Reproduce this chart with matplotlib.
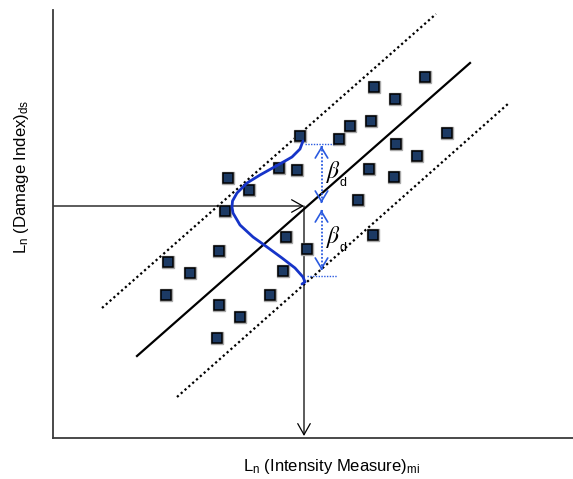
import matplotlib.pyplot as plt
from matplotlib.patches import FancyArrowPatch

plt.rcParams['font.family'] = ['Liberation Sans', 'DejaVu Sans']
plt.rcParams['mathtext.fontset'] = 'custom'
plt.rcParams['mathtext.rm'] = 'Liberation Sans'
plt.rcParams['mathtext.it'] = 'Liberation Sans:italic'

obs_x = [372, 321, 342, 318, 297, 286, 247, 394, 343, 364, 316, 341, 226, 244, 175,
         196, 305, 172, 233, 320, 254, 166, 115, 137, 230, 113, 217, 166, 187, 164]
obs_y = [361, 351, 339, 317, 312, 299, 302, 305, 294, 282, 269, 261, 270, 268, 260,
         248, 238, 227, 201, 203, 189, 187, 176, 165, 167, 143, 143, 133, 121, 100]

# median fit and the +/- beta band
fit_x = [84, 417]
fit_y = [82, 375]
upper_x = [49, 383]
upper_y = [130, 424]
lower_x = [124, 456]
lower_y = [41, 335]

# lognormal density drawn sideways about the chosen IM
pdf_x = [250, 247, 239, 225, 207, 194, 184, 179.5, 179, 180, 187, 200, 214, 229, 242, 250, 252, 249]
pdf_y = [297, 289, 281, 273, 263, 255, 245, 237, 231, 225, 213, 201, 191, 180, 170, 161, 156, 154]

im_x = 251
di_y = 232
beta_top = 293
beta_bot = 161

fig = plt.figure(figsize=(5.73, 4.79), dpi=100)
ax = fig.add_axes([53 / 573, 41 / 479, 520 / 573, 428 / 479])
ax.set_xlim(0, 520)
ax.set_ylim(0, 428)
for s in ['top', 'right']:
    ax.spines[s].set_visible(False)
for s in ['left', 'bottom']:
    ax.spines[s].set_linewidth(1.3)
    ax.spines[s].set_color('#3a3a3a')
ax.set_xticks([])
ax.set_yticks([])

ax.plot(fit_x, fit_y, color='black', lw=1.6, zorder=2)
ax.plot(upper_x, upper_y, color='black', lw=1.6, ls=(0, (1, 1.3)), zorder=2)
ax.plot(lower_x, lower_y, color='black', lw=1.6, ls=(0, (1, 1.3)), zorder=2)

# arrows from the axis to the fit and down to the IM axis
ax.add_patch(FancyArrowPatch((0, di_y), (im_x, di_y), arrowstyle='->,head_length=0.8,head_width=0.45',
                             mutation_scale=10, lw=0.9, color='black', shrinkA=0, shrinkB=0, zorder=2))
ax.add_patch(FancyArrowPatch((im_x, di_y), (im_x, 2), arrowstyle='->,head_length=0.8,head_width=0.45',
                             mutation_scale=10, lw=0.9, color='black', shrinkA=0, shrinkB=0, zorder=2))

ax.plot(obs_x, obs_y, ls='none', marker='s', markersize=8.0, markerfacecolor='#a8a8a8',
        markeredgecolor='#a8a8a8', zorder=3)
ax.plot(obs_x, obs_y, ls='none', marker='s', markersize=7.0, markerfacecolor='#1c3a64',
        markeredgecolor='black', markeredgewidth=1.1, zorder=4)

ax.plot(pdf_x, pdf_y, color='#1634c8', lw=2.0, solid_capstyle='round', solid_joinstyle='round', zorder=5)

# beta_d spans
blue = '#2a5ae0'
bx = 268.5
ax.plot([252, 282], [beta_top + 1, beta_top + 1], color=blue, lw=1.0, ls=(0, (1, 1)), zorder=3)
ax.plot([254, 284], [beta_bot + 1, beta_bot + 1], color=blue, lw=1.0, ls=(0, (1, 1)), zorder=3)
spans = [(beta_top - 1, di_y + 3), (di_y - 4, beta_bot + 7)]
for top, bot in spans:
    ax.plot([bx, bx], [top, bot], color=blue, lw=1.3, ls=(0, (1, 1)), zorder=3)
    for tip, tail in [(top, top - 1), (bot, bot + 1)]:
        ax.add_patch(FancyArrowPatch((bx, tail), (bx, tip), arrowstyle='->,head_length=0.75,head_width=0.45',
                                     mutation_scale=10, lw=1.2, color=blue, shrinkA=0, shrinkB=0, zorder=3))
    ymid = (top + bot) / 2
    ax.text(bx + 4, ymid + 3, r'$\beta$', math_fontfamily='stix', fontsize=17, ha='left', va='center', zorder=6)
    ax.text(bx + 18, ymid - 8, 'd', fontsize=9, ha='left', va='center', zorder=6)

fig.text(331 / 573, 1 - 467 / 479, r'L$_{\rm n}$ (Intensity Measure)$_{\rm mi}$', fontsize=12,
         ha='center', va='center')
fig.text(22 / 573, 1 - 177 / 479, r'L$_{\rm n}$ (Damage Index)$_{\rm ds}$', fontsize=12,
         ha='center', va='center', rotation=90)

fig.savefig('out.png', dpi=100)
